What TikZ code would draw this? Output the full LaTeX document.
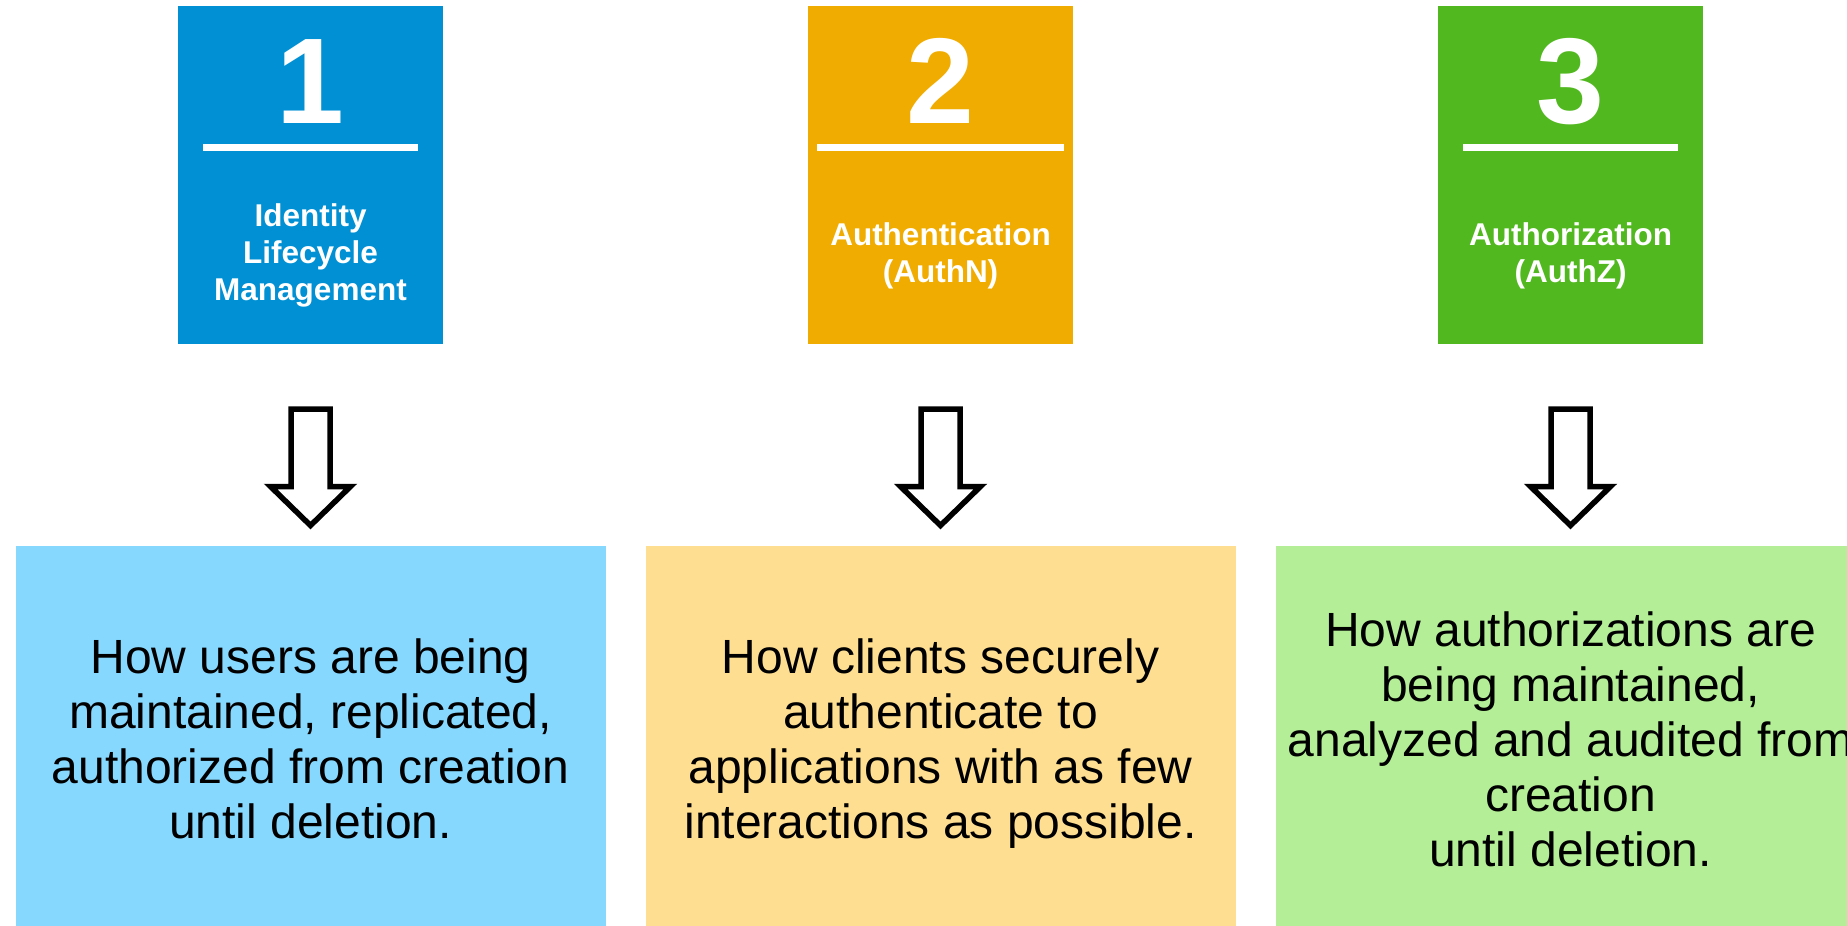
\documentclass[tikz,border=0pt]{standalone}
\usepackage{fontspec}
\setmainfont{Liberation Sans}
\usetikzlibrary{positioning}

\definecolor{idmblue}{HTML}{0090D3}
\definecolor{authnorange}{HTML}{F0AC00}
\definecolor{authzgreen}{HTML}{52B820}
\definecolor{idmlight}{HTML}{87D8FE}
\definecolor{authnlight}{HTML}{FEDE91}
\definecolor{authzlight}{HTML}{B4EE96}

\begin{document}
\begin{tikzpicture}[x=1pt,y=-1pt,node distance=630pt,on grid,
    topbox/.style={minimum width=265pt,minimum height=338pt,inner sep=0pt},
    descbox/.style={minimum width=590pt,minimum height=386pt,inner sep=0pt,align=center,
      font=\fontsize{48}{55}\selectfont},
    numtext/.style={text=white,anchor=base,font=\bfseries\fontsize{122}{122}\selectfont},
    titletext/.style={text=white,align=center,font=\bfseries\fontsize{31.5}{37}\selectfont},
    rule/.style={white,line width=7pt},
    hollow/.style={draw=black,fill=white,line width=5.5pt,line join=miter},
    downarrow/.pic={\draw[hollow] (-19.5,0) -- (19.5,0) -- (19.5,77.5) -- (40,77.5)
      -- (0,116.5) -- (-40,77.5) -- (-19.5,77.5) -- cycle;}]
    \path[use as bounding box,clip] (0,0) rectangle (1847,926);

    % top boxes
    \node[topbox,fill=idmblue] (idm) at (310.5,175) {};
    \node[topbox,fill=authnorange,right=of idm] (authn) {};
    \node[topbox,fill=authzgreen,right=of authn] (authz) {};

    \node[numtext] (idm_num) at (310.5,123) {1};
    \node[numtext] (authn_num) at (940.5,123) {2};
    \node[numtext] (authz_num) at (1570.5,123) {3};

    \draw[rule] (203,147) -- (418,147);
    \draw[rule] (817,147) -- (1064,147);
    \draw[rule] (1463,147) -- (1678,147);

    \node[titletext] (idm_title) at (310.5,255.5) {Identity\\Lifecycle\\Management};
    \node[titletext] (authn_title) at (940.5,255.5) {Authentication\\(AuthN)};
    \node[titletext] (authz_title) at (1570.5,255.5) {Authorization\\(AuthZ)};

    % arrows
    \coordinate (idm_arrow) at (310.5,409);
    \coordinate (authn_arrow) at (940.5,409);
    \coordinate (authz_arrow) at (1570.5,409);
    \pic at (idm_arrow) {downarrow};
    \pic at (authn_arrow) {downarrow};
    \pic at (authz_arrow) {downarrow};

    % descriptions
    \node[descbox,fill=idmlight,below=564pt of idm] (idm_desc)
      {How users are being\\maintained, replicated,\\authorized from creation\\until deletion.};
    \node[descbox,fill=authnlight,below=564pt of authn] (authn_desc)
      {How clients securely\\authenticate to\\applications with as few\\interactions as \smash{possible}.};
    \node[descbox,fill=authzlight,below=564pt of authz] (authz_desc)
      {How authorizations are\\being maintained,\\analyzed and audited from\\creation\\until deletion.};
  \end{tikzpicture}
\end{document}
